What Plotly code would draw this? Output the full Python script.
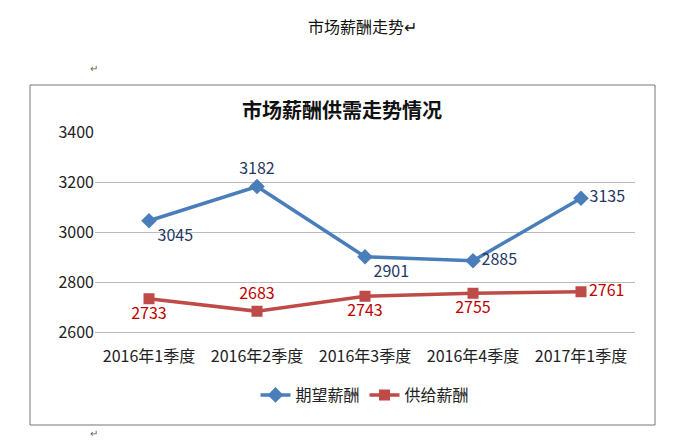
import plotly.graph_objs as go

quarters = ['2016年1季度', '2016年2季度', '2016年3季度', '2016年4季度', '2017年1季度']
expected = [3045, 3182, 2901, 2885, 3135]
supplied = [2733, 2683, 2743, 2755, 2761]
exp_pos = ['bottom right', 'top center', 'bottom right', 'middle right', 'middle right']
sup_pos = ['bottom center', 'top center', 'bottom center', 'bottom center', 'middle right']

# page has an 8px body margin, so work in shifted pixel coords
OFF = 8
W, H = 697 - 2 * OFF, 447 - 2 * OFF
L, R, T, B = 95 - OFF, 635 - OFF, 132 - OFF, 332 - OFF

def px(x):
    return (x - OFF - L) / (R - L)

def py(y):
    return (B - (y - OFF)) / (B - T)

font = 'Microsoft YaHei, Noto Sans CJK SC, sans-serif'

fig = go.Figure()
fig.add_trace(go.Scatter(x=quarters, y=expected, name='期望薪酬', mode='lines+markers+text',
                         line=dict(color='#4a7ebb', width=3.5),
                         marker=dict(symbol='diamond', size=12, color='#4a7ebb'),
                         text=[str(v) for v in expected], textposition=exp_pos,
                         textfont=dict(color='#1f3864', size=16, family=font)))
fig.add_trace(go.Scatter(x=quarters, y=supplied, name='供给薪酬', mode='lines+markers+text',
                         line=dict(color='#be4b48', width=3.5),
                         marker=dict(symbol='square', size=11, color='#be4b48'),
                         text=[str(v) for v in supplied], textposition=sup_pos,
                         textfont=dict(color='#c00000', size=16, family=font)))

fig.update_layout(
    width=W, height=H, paper_bgcolor='white', plot_bgcolor='white',
    margin=dict(l=L, r=W - R, t=T, b=H - B),
    font=dict(family=font, size=16, color='#222'),
    showlegend=True,
    legend=dict(orientation='h', x=0.5, xanchor='center', y=py(395), yanchor='middle',
                font=dict(size=16)),
    xaxis=dict(range=[-0.5, 4.5], showgrid=False, showline=True, linecolor='#bbb',
               ticks='', tickfont=dict(size=16), ticklabelstandoff=10),
    yaxis=dict(range=[2600, 3400], dtick=200, gridcolor='#bbb', showline=False,
               zeroline=False, ticks='', tickfont=dict(size=16)),
)

fig.add_shape(type='rect', xref='paper', yref='paper',
              x0=px(30), x1=px(655), y0=py(425), y1=py(85),
              line=dict(color='#777', width=1))
fig.add_annotation(text='<b>市场薪酬供需走势情况</b>', xref='paper', yref='paper',
                   x=px(342), y=py(110), yanchor='middle', showarrow=False,
                   font=dict(size=20, color='#111'))
fig.add_annotation(text='市场薪酬走势↵', xref='paper', yref='paper',
                   x=px(362), y=py(26), yanchor='middle', showarrow=False,
                   font=dict(size=16, color='#111', family='SimSun, Noto Sans CJK SC'))
for yy in (68, 432):
    fig.add_annotation(text='↵', xref='paper', yref='paper', x=px(88), y=py(yy),
                       yanchor='middle', showarrow=False, font=dict(size=10, color='#666'))

fig.write_html('out.html')
